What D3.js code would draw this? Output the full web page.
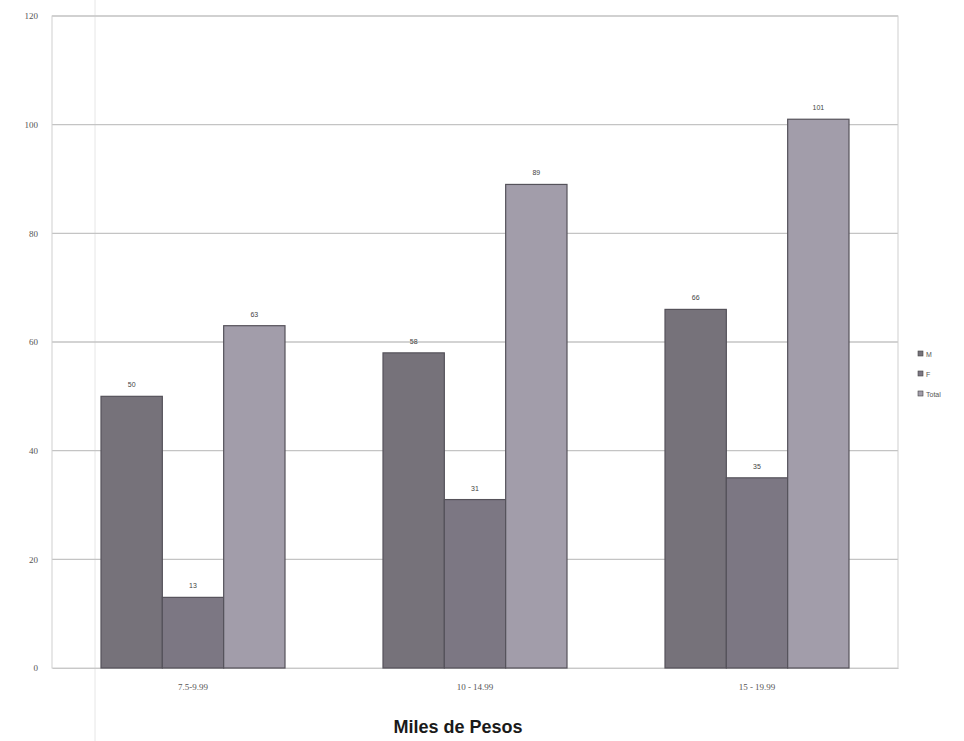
<!DOCTYPE html>
<html>
<head>
<meta charset="utf-8">
<script src="https://cdn.jsdelivr.net/npm/d3@7/dist/d3.min.js"></script>
<style>
  html, body { margin: 0; padding: 0; background: #ffffff; }
  svg { display: block; }
</style>
</head>
<body>
<svg id="chart" width="964" height="741"></svg>
<script>
// Income brackets (thousands of pesos) and counts per group
const categories = ["7.5-9.99", "10 - 14.99", "15 - 19.99"];
const seriesNames = ["M", "F", "Total"];
const valuesM = [50, 58, 66];
const valuesF = [13, 31, 35];
const valuesTotal = [63, 89, 101];
const yTicks = [0, 20, 40, 60, 80, 100, 120];
const seriesColors = ["#76727a", "#7c7783", "#a29daa"];

const seriesValues = [valuesM, valuesF, valuesTotal];

const svg = d3.select("#chart");
const margin = { left: 52, right: 66, top: 16, bottom: 73 };
const W = 964, H = 741;
const plotLeft = margin.left, plotRight = W - margin.right;
const plotTop = margin.top, plotBottom = H - margin.bottom;

const x0 = d3.scaleBand().domain(categories).range([plotLeft, plotRight]).paddingInner(0).paddingOuter(0);
const x1 = d3.scaleBand().domain(seriesNames).range([49, x0.bandwidth() - 49]).padding(0);
const y = d3.scaleLinear().domain([0, 120]).range([plotBottom, plotTop]);

// faint vertical fold line across the sheet
svg.append("line")
  .attr("x1", 95).attr("x2", 95).attr("y1", 0).attr("y2", H)
  .attr("stroke", "#e6e6e6").attr("stroke-width", 1);

// horizontal gridlines
svg.append("g").selectAll("line").data(yTicks.filter(d => d > 0)).join("line")
  .attr("x1", plotLeft).attr("x2", plotRight)
  .attr("y1", d => y(d)).attr("y2", d => y(d))
  .attr("stroke", "#c4c4c4").attr("stroke-width", 1.3);

// plot frame
svg.append("rect")
  .attr("x", plotLeft).attr("y", y(120))
  .attr("width", plotRight - plotLeft).attr("height", y(0) - y(120))
  .attr("fill", "none").attr("stroke", "#cfcfcf").attr("stroke-width", 1);

// y axis labels
const yAxis = d3.axisLeft(y).tickValues(yTicks).tickSize(0).tickPadding(14);
const gy = svg.append("g").attr("transform", `translate(${plotLeft},0)`).call(yAxis);
gy.select(".domain").remove();
gy.selectAll("text")
  .attr("font-family", "Liberation Serif, serif")
  .attr("font-size", 9).attr("fill", "#555");

// x axis labels
const xAxis = d3.axisBottom(x0).tickSize(0).tickPadding(16);
const gx = svg.append("g").attr("transform", `translate(0,${plotBottom})`).call(xAxis);
gx.select(".domain").attr("stroke", "#c8c8c8");
gx.selectAll("text")
  .attr("font-family", "Liberation Serif, serif")
  .attr("font-size", 9).attr("fill", "#555");

// bars
const groups = svg.append("g").selectAll("g").data(categories).join("g")
  .attr("transform", d => `translate(${x0(d)},0)`);

groups.each(function(cat, ci) {
  const g = d3.select(this);
  seriesNames.forEach((s, si) => {
    const v = seriesValues[si][ci];
    g.append("rect")
      .attr("x", x1(s)).attr("y", y(v))
      .attr("width", x1.bandwidth()).attr("height", y(0) - y(v))
      .attr("fill", seriesColors[si])
      .attr("stroke", "#55525a").attr("stroke-width", 1.2);
    g.append("text")
      .attr("x", x1(s) + x1.bandwidth() / 2).attr("y", y(v) - 9)
      .attr("text-anchor", "middle")
      .attr("font-family", "Liberation Sans, sans-serif")
      .attr("font-size", 7).attr("fill", "#444")
      .text(v);
  });
});

// legend
const legend = svg.append("g").attr("transform", "translate(918,354)");
seriesNames.forEach((s, i) => {
  const row = legend.append("g").attr("transform", `translate(0,${i * 20})`);
  row.append("rect").attr("x", 0).attr("y", -3).attr("width", 5).attr("height", 5)
    .attr("fill", seriesColors[i]).attr("stroke", "#444").attr("stroke-width", 0.6);
  row.append("text").attr("x", 8).attr("y", 2.5)
    .attr("font-family", "Liberation Sans, sans-serif")
    .attr("font-size", 7).attr("fill", "#555").text(s);
});

// axis title
svg.append("text")
  .attr("x", 458).attr("y", 733)
  .attr("text-anchor", "middle")
  .attr("font-family", "Liberation Sans, Arial, sans-serif")
  .attr("font-weight", "bold").attr("font-size", 18).attr("fill", "#1a1a1a")
  .text("Miles de Pesos");
</script>
</body>
</html>
